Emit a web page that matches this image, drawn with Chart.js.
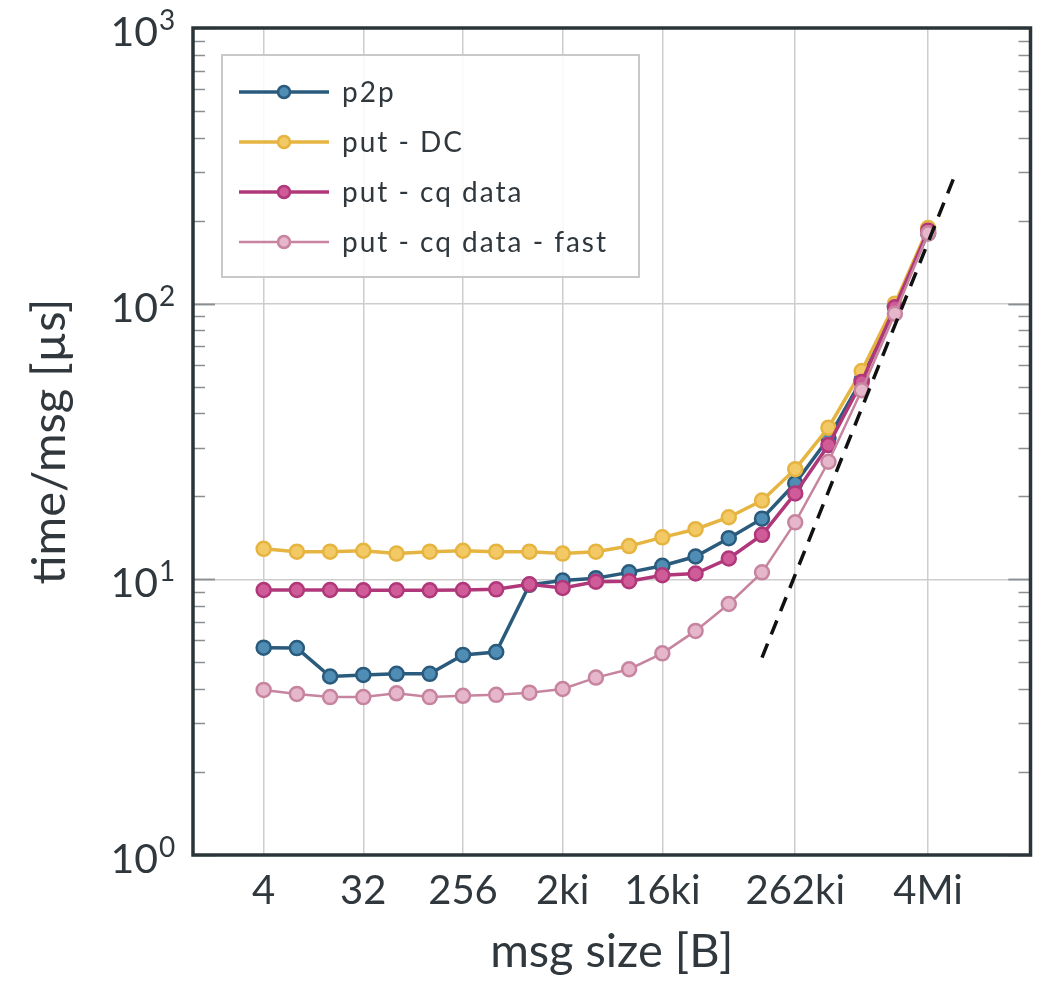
<!DOCTYPE html>
<html>
<head>
<meta charset="utf-8">
<script src="https://cdn.jsdelivr.net/npm/chart.js@4.4.0/dist/chart.umd.min.js"></script>
<style>
  html, body { margin: 0; padding: 0; background: #fff; }
  #wrap { width: 1040px; height: 989px; }
</style>
</head>
<body>
<div id="wrap"><canvas id="c" width="1040" height="989"></canvas></div>
<script>
// message sizes in bytes (2^2 .. 2^22)
const sizes = [4, 8, 16, 32, 64, 128, 256, 512, 1024, 2048, 4096, 8192, 16384, 32768,
  65536, 131072, 262144, 524288, 1048576, 2097152, 4194304];

// time per message [us]
const p2p = [5.65, 5.63, 4.44, 4.5, 4.54, 4.54, 5.32, 5.45, 9.55, 9.9, 10.1, 10.6, 11.2,
  12.1, 14.1, 16.6, 22.3, 32.5, 53, 98, 180];
const putDC = [12.9, 12.6, 12.6, 12.7, 12.4, 12.6, 12.7, 12.6, 12.6, 12.4, 12.6, 13.2, 14.2,
  15.2, 16.8, 19.3, 25.1, 35.5, 57, 100, 188];
const putCq = [9.15, 9.15, 9.15, 9.13, 9.13, 9.13, 9.15, 9.2, 9.6, 9.3, 9.8, 9.85, 10.35,
  10.5, 11.9, 14.5, 20.5, 30.7, 52, 97, 184];
const putCqFast = [3.97, 3.84, 3.74, 3.74, 3.86, 3.74, 3.78, 3.81, 3.88, 4.0, 4.4, 4.72, 5.39,
  6.5, 8.14, 10.6, 16.1, 26.7, 48.5, 92, 180];

// bandwidth reference line (dashed)
const refX = [131072, 7500000];
const refY = [5.2, 299];

const xTickValues = [4, 32, 256, 2048, 16384, 262144, 4194304];
const xTickLabels = ['4', '32', '256', '2ki', '16ki', '262ki', '4Mi'];
const yTickValues = [1, 10, 100, 1000];
const yTickExps = ['0', '1', '2', '3'];

const FONT = 'Lato';
const TEXT = '#30383d';

const pts = ys => sizes.map((x, i) => ({ x, y: ys[i] }));

function series(label, data, line, fill, width, order) {
  return {
    label, data: pts(data), borderColor: line, backgroundColor: fill,
    pointBackgroundColor: fill, pointBorderColor: line,
    borderWidth: width, pointRadius: 7, pointBorderWidth: 2.5,
    tension: 0, order
  };
}

const chartDeco = {
  id: 'chartDeco',
  afterDraw(chart) {
    const { ctx, chartArea: a } = chart;
    const y = chart.scales.y;
    ctx.save();

    // minor / major tick marks on inner left and right
    ctx.strokeStyle = '#8a8f93';
    ctx.lineWidth = 1.5;
    for (let e = 0; e < 3; e++) {
      for (let m = 1; m <= 10; m++) {
        const v = m * Math.pow(10, e);
        const py = Math.round(y.getPixelForValue(v)) + 0.5;
        const len = (m === 1 || m === 10) ? 22 : 12;
        ctx.beginPath();
        ctx.moveTo(a.left, py); ctx.lineTo(a.left + len, py);
        ctx.moveTo(a.right, py); ctx.lineTo(a.right - len, py);
        ctx.stroke();
      }
    }

    // frame
    ctx.strokeStyle = '#2b3439';
    ctx.lineWidth = 3.5;
    ctx.strokeRect(a.left, a.top, a.right - a.left, a.bottom - a.top);

    // y tick labels 10^n
    ctx.fillStyle = TEXT;
    yTickValues.forEach((v, i) => {
      const py = y.getPixelForValue(v);
      ctx.textAlign = 'right';
      ctx.textBaseline = 'alphabetic';
      ctx.font = '41px ' + FONT;
      ctx.fillText('10', 158, py + 18);
      ctx.textAlign = 'left';
      ctx.font = '28px ' + FONT;
      ctx.fillText(yTickExps[i], 159, py + 2);
    });

    // legend
    const lx = a.left + 29, ly = a.top + 27, lw = 417, lh = 222;
    ctx.fillStyle = 'rgba(255,255,255,0.85)';
    ctx.fillRect(lx, ly, lw, lh);
    ctx.strokeStyle = '#c9c9c9';
    ctx.lineWidth = 2;
    ctx.strokeRect(lx, ly, lw, lh);
    const items = chart.data.datasets.filter(d => !d.isRef);
    items.forEach((d, i) => {
      const cy = ly + 37 + i * 50;
      ctx.strokeStyle = d.borderColor;
      ctx.lineWidth = d.borderWidth;
      ctx.beginPath();
      ctx.moveTo(lx + 17, cy); ctx.lineTo(lx + 107, cy);
      ctx.stroke();
      ctx.beginPath();
      ctx.arc(lx + 62, cy, 6, 0, Math.PI * 2);
      ctx.fillStyle = d.pointBackgroundColor;
      ctx.fill();
      ctx.lineWidth = 2.5;
      ctx.stroke();
      ctx.fillStyle = TEXT;
      ctx.font = '28px ' + FONT;
      ctx.letterSpacing = '2px';
      ctx.textAlign = 'left';
      ctx.textBaseline = 'middle';
      ctx.fillText(d.label, lx + 120, cy + 1);
      ctx.letterSpacing = '0px';
    });
    ctx.restore();
  }
};

function draw() {
  new Chart(document.getElementById('c'), {
    type: 'line',
    data: {
      datasets: [
        series('p2p', p2p, '#2a5b7d', '#4f8db5', 3.5, 4),
        series('put - DC', putDC, '#e6b440', '#f2c965', 3.5, 3),
        series('put - cq data', putCq, '#b0387a', '#cf5b98', 3.5, 2),
        series('put - cq data - fast', putCqFast, '#c7849f', '#e6b6ca', 2.5, 1),
        {
          label: 'ref', isRef: true,
          data: refX.map((x, i) => ({ x, y: refY[i] })),
          borderColor: '#111', borderWidth: 3.5, borderDash: [15, 10],
          pointRadius: 0, order: 0
        }
      ]
    },
    options: {
      responsive: false,
      animation: false,
      devicePixelRatio: 1,
      layout: { padding: { top: 28, right: 5, left: 0, bottom: 0 } },
      plugins: { legend: { display: false }, tooltip: { enabled: false } },
      scales: {
        x: {
          type: 'logarithmic',
          min: 0.916, max: 3.55e7,
          afterBuildTicks: s => { s.ticks = xTickValues.map(v => ({ value: v })); },
          afterFit: s => { s.height = 134; },
          ticks: {
            autoSkip: false, maxRotation: 0, padding: 12, color: TEXT,
            font: { family: FONT, size: 40 },
            callback: (v, i) => xTickLabels[i]
          },
          grid: { color: '#cdcdcd', lineWidth: 1.5, drawTicks: false },
          border: { display: false },
          title: {
            display: true, text: 'msg size [B]', color: TEXT,
            font: { family: FONT, size: 47 }, padding: { top: 0, bottom: 9 }
          }
        },
        y: {
          type: 'logarithmic',
          min: 1, max: 1000,
          afterBuildTicks: s => { s.ticks = yTickValues.map(v => ({ value: v })); },
          afterFit: s => { s.width = 193; },
          ticks: { display: false },
          grid: { color: '#cdcdcd', lineWidth: 1.5, drawTicks: false },
          border: { display: false },
          title: {
            display: true, text: 'time/msg [µs]', color: TEXT,
            font: { family: FONT, size: 47 }, padding: { top: 22, bottom: 0 }
          }
        }
      }
    },
    plugins: [chartDeco]
  });
}

Promise.all([
  document.fonts.load('40px ' + FONT),
  document.fonts.load('28px ' + FONT)
]).then(draw, draw);
</script>
</body>
</html>
